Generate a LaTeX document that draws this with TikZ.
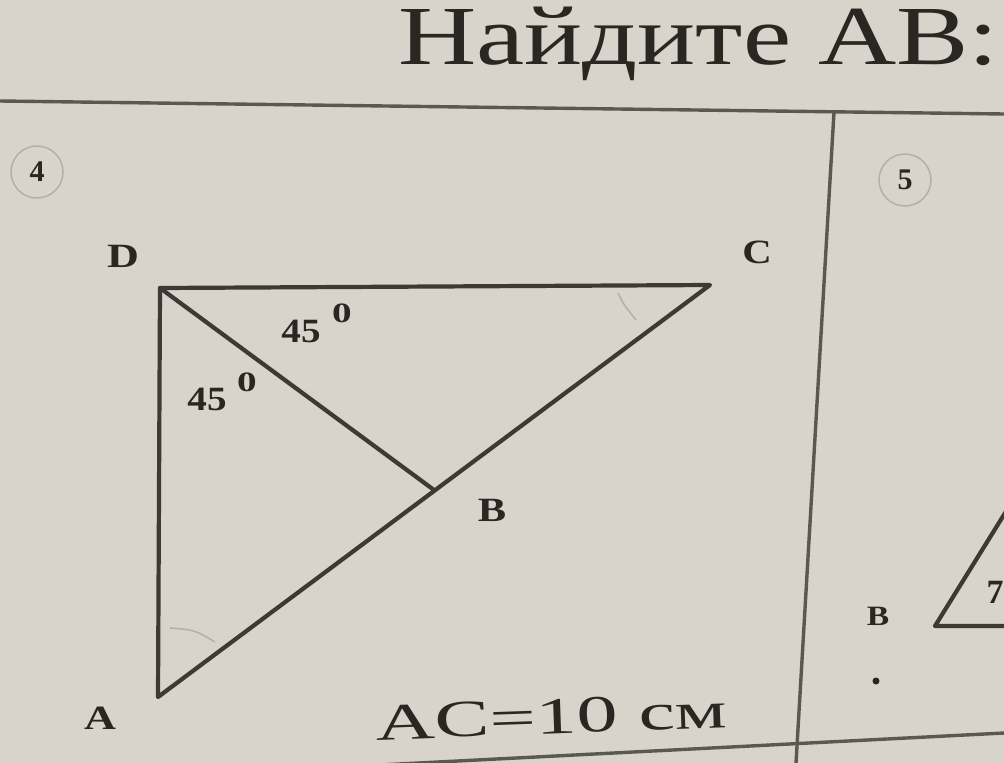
\documentclass[tikz,border=0pt]{standalone}
\usepackage{fontspec}
\setmainfont{Liberation Serif}
\definecolor{paper}{HTML}{D8D4CC}
\definecolor{ink}{HTML}{3E3934}
\definecolor{txt}{HTML}{2A2622}
\definecolor{faint}{HTML}{B5AFA6}
\begin{document}
\begin{tikzpicture}[x=1pt,y=-1pt,
  edge/.style={draw=ink, line width=4.2pt, line cap=round, line join=round},
  frame/.style={draw=ink!85, line width=3.4pt},
  vlabel/.style={text=txt, inner sep=0pt, font=\fontsize{34}{34}\selectfont\bfseries},
  anglbl/.style={text=txt, inner sep=0pt, font=\fontsize{34}{34}\selectfont\bfseries},
  degsym/.style={text=txt, inner sep=0pt, font=\fontsize{28}{28}\selectfont\bfseries},
  numcirc/.style={circle, draw=faint, line width=1.5pt, minimum size=52pt, inner sep=0pt, text=txt, font=\fontsize{30}{30}\selectfont\bfseries},
  anglemark/.style={draw=faint, line width=1.5pt}]
\fill[paper] (0,0) rectangle (1004,763);
\useasboundingbox (0,0) rectangle (1004,763);
% title
\node[anchor=base west, inner sep=0pt, text=txt, font=\fontsize{84}{84}\selectfont] (title) at (398,64) {\scalebox{1.29}[1]{Найдите АВ:}};
% frame lines
\coordinate (hl1) at (0,101);
\coordinate (hl2) at (1004,114);
\coordinate (vt) at (834,112);
\coordinate (vb) at (796,763);
\coordinate (bl1) at (360,766);
\coordinate (bl2) at (1004,733);
\draw[frame] (hl1) -- (hl2);
\draw[frame] (vt) -- (vb);
\draw[frame] (bl1) -- (bl2);
% problem numbers
\node[numcirc] (n4) at (37,172) {4};
\node[numcirc] (n5) at (905,180) {5};
% triangle
\coordinate (D) at (160,288);
\coordinate (C) at (710,285);
\coordinate (A) at (158,697);
\coordinate (B) at (434,490);
\draw[edge] (D) -- (C) -- (A) -- cycle;
\draw[edge] (D) -- (B);
% faint angle marks
\draw[anglemark] (618,293) .. controls (624,305) .. (636,320);
\draw[anglemark] (170,628) .. controls (195,630) .. (215,642);
% labels
\node[vlabel] (lD) at (123,256) {\scalebox{1.3}[1]{D}};
\node[vlabel] (lC) at (757,252) {\scalebox{1.2}[1]{C}};
\node[vlabel] (lB) at (492,510) {\scalebox{1.25}[1]{B}};
\node[vlabel] (lA) at (100,718) {\scalebox{1.3}[1]{A}};
\node[anglbl] (a1) at (301,331) {\scalebox{1.15}[1]{45}};
\node[degsym] (d1) at (342,313) {\scalebox{1.4}[1]{0}};
\node[anglbl] (a2) at (207,399) {\scalebox{1.15}[1]{45}};
\node[degsym] (d2) at (247,382) {\scalebox{1.4}[1]{0}};
\node[anchor=base west, inner sep=0pt, text=txt, font=\fontsize{52}{52}\selectfont, rotate=2] (ac) at (376,740) {\scalebox{1.58}[1]{AC=10 см}};
% right problem fragment
\coordinate (P) at (935,626);
\coordinate (Q) at (1010,505);
\coordinate (R) at (1010,626);
\draw[edge] (Q) -- (P) -- (R);
\node[vlabel, font=\fontsize{28}{28}\selectfont\bfseries] (lB2) at (878,616) {\scalebox{1.2}[1]{B}};
\node[vlabel] (seven) at (995,592) {7};
\fill[txt] (876,681) circle (3.5pt);
\end{tikzpicture}
\end{document}
